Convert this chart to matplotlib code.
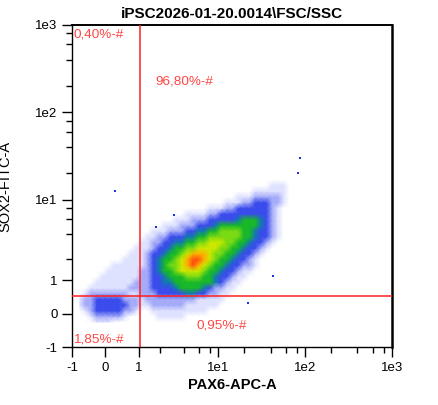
import numpy as np
import matplotlib
matplotlib.use("Agg")
import matplotlib.pyplot as plt
from matplotlib.colors import ListedColormap, BoundaryNorm
from matplotlib.ticker import FixedLocator, FixedFormatter, NullFormatter

# ---------------- data ----------------
title = "iPSC2026-01-20.0014\\FSC/SSC"
x_label = "PAX6-APC-A"
y_label = "SOX2-FITC-A"
major_ticks = [-1, 0, 1, 10, 100, 1000]
major_labels = ["-1", "0", "1", "1e1", "1e2", "1e3"]
minor_ticks = [2, 4, 6, 8, 20, 40, 60, 80, 200, 400, 600, 800]
axis_min, axis_max = -1, 1000

gate_x = 1.05
gate_y = 0.47
quad_labels = ["0,40%-#", "96,80%-#", "1,85%-#", "0,95%-#"]

# event density, on a grid in asinh units (cell centres)
grid_u_x0 = -0.75      # left edge (asinh units)
grid_u_ytop = 4.2      # top edge (asinh units)
grid_step = 0.15
density_rows = [
    "000000000000000000000000000000000000000000",
    "000000000000000000000000000000000000000000",
    "000000000000000000000000000000000000000000",
    "000000000000000000000000000000000000000000",
    "000000000000000000000000000000000000000000",
    "000000000000000000000000000000000011100000",
    "000000000000000000000000000000011111100000",
    "000000000000000000000000000011122222100000",
    "000000000000000000000000001112233322100000",
    "000000000000000000000001112233333321000000",
    "000000000000000000011112233333333321000000",
    "000000000000000001112223333345554321000000",
    "000000000000000111222333455555554321000000",
    "000000000000011122233445566665543321000000",
    "000000000000112233344556666665543321000000",
    "000000000001122334455667776655433210000000",
    "000000000011123345566777766554332100000000",
    "000000000111233455678887665543321000000000",
    "000000001111234556789987655433210000000000",
    "000000111111234566789876554332210000000000",
    "000001111112234556777765543321100000000000",
    "000011111112233455566655433211000000000000",
    "000111111122233445555555432110000000000000",
    "001111111222233334555543221100000000000000",
    "012222222112223333344332211000000000000000",
    "122333332221222222222111110000000000000000",
    "122333333221122222211111100000000000000000",
    "012333332210011111111110000000000000000000",
    "001222221000001111100000000000000000000000",
    "000111000000000000000000000000000000000000",
]
level_colors = ["#ffffff", "#dfe2ff", "#a4abf8", "#3a4cec", "#127ab0",
                "#18b82a", "#7ada14", "#cce800", "#ffb000", "#ff5010"]

outliers_x = [87, 83, 0.27, 43, 22, 1.8, 3.0]
outliers_y = [30, 20, 12.5, 1.15, 0.27, 4.9, 6.7]

# ---------------- plot ----------------
plt.rcParams["font.family"] = ["Liberation Sans", "DejaVu Sans"]

fig = plt.figure(figsize=(4.38, 4.05), dpi=100)
ax = fig.add_axes([0.1644, 0.1432, 0.7306, 0.7951])
ax.set_xscale("asinh", linear_width=1.0)
ax.set_yscale("asinh", linear_width=1.0)

Z = np.array([[int(c) for c in r] for r in density_rows], dtype=float)
nrows, ncols = Z.shape
x_nodes = np.sinh(grid_u_x0 + grid_step * (np.arange(ncols) + 0.5))
y_nodes = np.sinh(grid_u_ytop - grid_step * (np.arange(nrows) + 0.5))
cmap = ListedColormap(level_colors)
norm = BoundaryNorm(np.arange(-0.5, 10.5, 1.0), cmap.N)
ax.pcolormesh(x_nodes, y_nodes[::-1], Z[::-1], cmap=cmap, norm=norm,
              shading="gouraud", zorder=1)
ax.scatter(outliers_x, outliers_y, s=3, marker="s", color="#1f2fe6",
           linewidths=0, zorder=2)

ax.axvline(gate_x, color="#ff2020", lw=1.1, zorder=3)
ax.axhline(gate_y, color="#ff2020", lw=1.1, zorder=3)

qcol = "#ff4646"
ax.text(0.006, 0.969, quad_labels[0], transform=ax.transAxes, color=qcol,
        fontsize=9.7, ha="left", va="center")
ax.text(0.259, 0.826, quad_labels[1], transform=ax.transAxes, color=qcol,
        fontsize=9.7, ha="left", va="center")
ax.text(0.004, 0.022, quad_labels[2], transform=ax.transAxes, color=qcol,
        fontsize=9.7, ha="left", va="center")
ax.text(0.3875, 0.068, quad_labels[3], transform=ax.transAxes, color=qcol,
        fontsize=9.7, ha="left", va="center")

ax.set_xlim(axis_min, axis_max)
ax.set_ylim(axis_min, axis_max)
for axis in (ax.xaxis, ax.yaxis):
    axis.set_major_locator(FixedLocator(major_ticks))
    axis.set_major_formatter(FixedFormatter(major_labels))
    axis.set_minor_locator(FixedLocator(minor_ticks))
    axis.set_minor_formatter(NullFormatter())
ax.tick_params(which="major", direction="out", length=7.5, width=1.0,
               labelsize=9.5, pad=3)
ax.tick_params(which="minor", direction="out", length=4, width=1.0)

for s in ax.spines.values():
    s.set_linewidth(1.0)
    s.set_color("black")
ax.spines["right"].set_linewidth(1.8)
ax.spines["top"].set_linewidth(1.4)

ax.set_title(title, fontsize=11, fontweight="bold", pad=5)
ax.set_xlabel(x_label, fontsize=10.5, fontweight="bold", labelpad=3)
ax.set_ylabel(y_label, fontsize=10.5, labelpad=16)

fig.savefig("out.png", dpi=100)
